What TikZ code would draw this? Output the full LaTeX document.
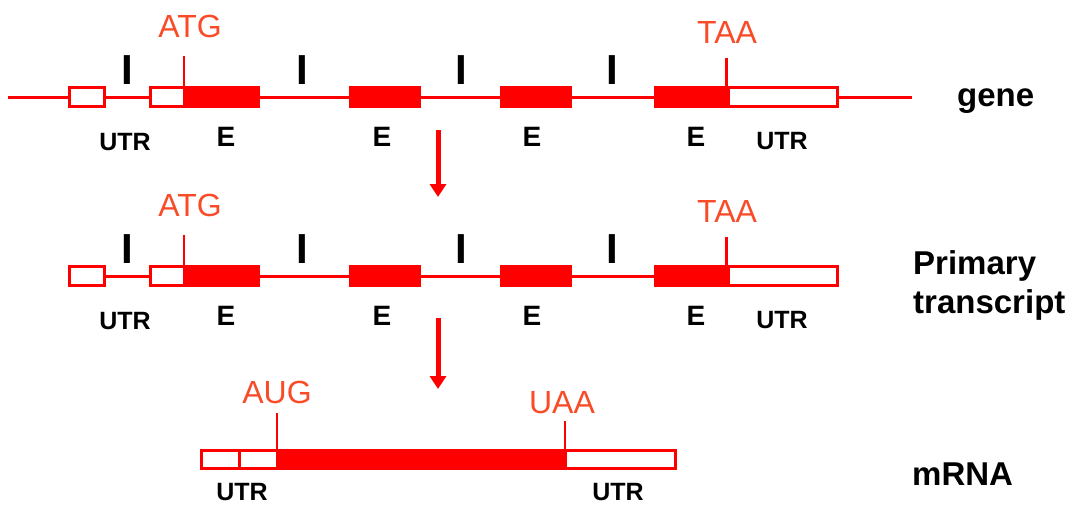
\documentclass[tikz,border=0pt]{standalone}
\usepackage{fontspec}
\setmainfont{Liberation Sans}
\usetikzlibrary{arrows.meta}
\definecolor{gred}{RGB}{255,0,0}
\definecolor{codon}{RGB}{250,75,40}
\begin{document}
\begin{tikzpicture}[x=1pt,y=-1pt,
  seg/.style={draw=gred,line width=3pt,inner sep=0pt,outer sep=0pt,minimum height=19pt},
  utr/.style={seg,fill=white},
  exon/.style={seg,fill=gred},
  strand/.style={draw=gred,line width=3pt},
  tick/.style={draw=gred,line width=2.5pt},
  flow/.style={draw=gred,line width=5pt,-{Triangle[width=16pt,length=13pt]}},
  codonlab/.style={text=codon,font=\fontsize{32}{36}\selectfont,inner sep=0pt,anchor=base},
  intron/.style={font=\bfseries\fontsize{42}{46}\selectfont,inner sep=0pt,anchor=base},
  exlab/.style={font=\bfseries\fontsize{28}{30}\selectfont,inner sep=0pt,anchor=base},
  utrlab/.style={font=\bfseries\fontsize{25}{28}\selectfont,inner sep=0pt,anchor=base},
  rowlab/.style={font=\bfseries\fontsize{33}{39}\selectfont,inner sep=0pt,align=left}]
\useasboundingbox (0,0) rectangle (1083,504);

% ---------- gene ----------
\coordinate (gL) at (8,97);
\coordinate (gR) at (912,97);
\node[utr,minimum width=35pt] (g-u1) at (87,97) {};
\node[utr,minimum width=33.5pt] (g-u2) at (167.25,97) {};
\node[exon,minimum width=74.5pt] (g-e1) at (221.25,97) {};
\node[exon,minimum width=69pt] (g-e2) at (385,97) {};
\node[exon,minimum width=69pt] (g-e3) at (536,97) {};
\node[exon,minimum width=71pt] (g-e4) at (691,97) {};
\node[utr,minimum width=109.5pt] (g-u3) at (782.75,97) {};
\draw[strand] (gL) -- (g-u1.west);
\draw[strand] (g-u1.east) -- (g-u2.west);
\draw[strand] (g-e1.east) -- (g-e2.west);
\draw[strand] (g-e2.east) -- (g-e3.west);
\draw[strand] (g-e3.east) -- (g-e4.west);
\draw[strand] (g-u3.east) -- (gR);
\coordinate (g-start) at (184,56);
\coordinate (g-stop) at (727,58);
\draw[tick] (g-e1.north west) -- (g-e1.north west |- g-start);
\draw[tick] (g-e4.north east) -- (g-e4.north east |- g-stop);
\node[codonlab] (g-atg) at (190,37) {ATG};
\node[codonlab] (g-taa) at (727,43) {TAA};
\node[intron] (g-i1) at (127.5,84) {I};
\node[intron] (g-i2) at (302,84) {I};
\node[intron] (g-i3) at (461,84) {I};
\node[intron] (g-i4) at (612,84) {I};
\node[exlab] (g-x1) at (226,146) {E};
\node[exlab] (g-x2) at (382,146) {E};
\node[exlab] (g-x3) at (532,146) {E};
\node[exlab] (g-x4) at (696,146) {E};
\node[utrlab] (g-t1) at (125,150) {UTR};
\node[utrlab] (g-t2) at (782,149) {UTR};
\node[rowlab,anchor=base west] (g-name) at (957,106) {gene};

% ---------- primary transcript ----------
\node[utr,minimum width=35pt] (p-u1) at (87,276) {};
\node[utr,minimum width=33.5pt] (p-u2) at (167.25,276) {};
\node[exon,minimum width=74.5pt] (p-e1) at (221.25,276) {};
\node[exon,minimum width=69pt] (p-e2) at (385,276) {};
\node[exon,minimum width=69pt] (p-e3) at (536,276) {};
\node[exon,minimum width=71pt] (p-e4) at (691,276) {};
\node[utr,minimum width=109.5pt] (p-u3) at (782.75,276) {};
\draw[strand] (p-u1.east) -- (p-u2.west);
\draw[strand] (p-e1.east) -- (p-e2.west);
\draw[strand] (p-e2.east) -- (p-e3.west);
\draw[strand] (p-e3.east) -- (p-e4.west);
\coordinate (p-start) at (184,235);
\coordinate (p-stop) at (727,237);
\draw[tick] (p-e1.north west) -- (p-e1.north west |- p-start);
\draw[tick] (p-e4.north east) -- (p-e4.north east |- p-stop);
\node[codonlab] (p-atg) at (190,216) {ATG};
\node[codonlab] (p-taa) at (727,222) {TAA};
\node[intron] (p-i1) at (127.5,263) {I};
\node[intron] (p-i2) at (302,263) {I};
\node[intron] (p-i3) at (461,263) {I};
\node[intron] (p-i4) at (612,263) {I};
\node[exlab] (p-x1) at (226,325) {E};
\node[exlab] (p-x2) at (382,325) {E};
\node[exlab] (p-x3) at (532,325) {E};
\node[exlab] (p-x4) at (696,325) {E};
\node[utrlab] (p-t1) at (125,329) {UTR};
\node[utrlab] (p-t2) at (782,328) {UTR};
\node[rowlab,anchor=west] (p-name) at (913,285) {Primary\\transcript};

% ---------- mRNA ----------
\node[utr,minimum width=37.5pt,minimum height=18pt] (m-u1) at (220.25,459.5) {};
\node[utr,minimum width=38pt,minimum height=18pt] (m-u2) at (258,459.5) {};
\node[exon,minimum width=288pt,minimum height=18pt] (m-cds) at (421,459.5) {};
\node[utr,minimum width=110.5pt,minimum height=18pt] (m-u3) at (620.25,459.5) {};
\coordinate (m-start) at (277,413);
\coordinate (m-stop) at (565,421);
\draw[tick] (m-cds.north west) -- (m-cds.north west |- m-start);
\draw[tick] (m-cds.north east) -- (m-cds.north east |- m-stop);
\node[codonlab] (m-aug) at (277,403) {AUG};
\node[codonlab] (m-uaa) at (562,413) {UAA};
\node[utrlab] (m-t1) at (242,500) {UTR};
\node[utrlab] (m-t2) at (618,500) {UTR};
\node[rowlab,anchor=base west] (m-name) at (912,485) {mRNA};

% ---------- processing arrows ----------
\coordinate (a1s) at (438,130);
\coordinate (a1e) at (438,197);
\coordinate (a2s) at (438,318);
\coordinate (a2e) at (438,389);
\draw[flow] (a1s) -- (a1e);
\draw[flow] (a2s) -- (a2e);
\end{tikzpicture}
\end{document}
